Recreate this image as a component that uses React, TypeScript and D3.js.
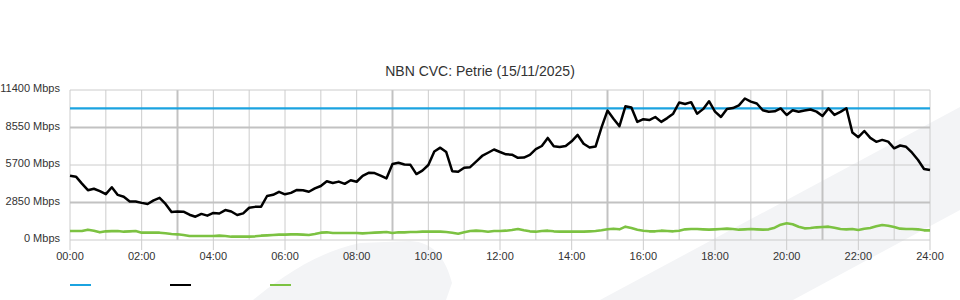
import React from "react";
import * as d3 from "d3";

const title = "NBN CVC: Petrie (15/11/2025)";
const yTicks = [0, 2850, 5700, 8550, 11400];
const xTickHours = [0, 2, 4, 6, 8, 10, 12, 14, 16, 18, 20, 22, 24];
const gridHours = d3.range(0, 25);
const majorGridHours = [3, 9, 15, 21];
const majorGridValues = [2850, 8550];
const capacity = 10000;
const minutesPerSample = 10;

// Total traffic (Mbps), 10-minute samples from 00:00 to 24:00
const traffic = [
  4889, 4813, 4286, 3785, 3894, 3709, 3486, 4010, 3428, 3286, 2928, 2928,
  2820, 2736, 3015, 3202, 2744, 2133, 2166, 2148, 1920, 1768, 1984, 1849,
  2057, 2014, 2275, 2166, 1900, 2022, 2452, 2518, 2533, 3344, 3433, 3663,
  3471, 3580, 3805, 3782, 3668, 3919, 4104, 4466, 4329, 4438, 4269, 4540,
  4426, 4874, 5105, 5084, 4897, 4687, 5781, 5870, 5743, 5710, 5011, 5272,
  5700, 6728, 7017, 6680, 5231, 5188, 5490, 5538, 5953, 6386, 6630, 6878,
  6688,
  6511, 6485, 6245, 6265, 6468, 6903, 7144, 7757, 7126, 7073, 7144, 7499,
  7985, 7311, 7033, 7103, 8563, 9837, 9221, 8651, 10159, 10067, 8973, 9183,
  9112, 9348, 8976, 9264, 9601, 10450, 10336, 10475, 9594, 9946, 10546, 9753,
  9348, 9958, 10024, 10235, 10754, 10513, 10376, 9860, 9748, 9779, 9999, 9500,
  9862, 9743, 9839, 9920, 9756, 9424, 10004, 9507, 9735, 10017, 8165, 7810,
  8284, 7760, 7461, 7608, 7473, 6967, 7182, 7083, 6637, 6080, 5401, 5320,
];

// Upload / other traffic (Mbps), 10-minute samples
const upload = [
  684, 684, 684, 785, 709, 583, 659, 671, 684, 633, 659, 684,
  557, 557, 557, 557, 507, 456, 431, 380, 304, 304, 304, 304,
  304, 329, 304, 253, 253, 253, 253, 279, 329, 355, 380, 405,
  405, 431, 431, 405, 380, 456, 557, 583, 532, 532, 532, 532,
  532, 507, 532, 557, 583, 608, 532, 583, 583, 608, 608, 633,
  633, 633, 633, 608, 557, 481, 583, 684, 709, 684, 633, 684,
  684,
  709, 760, 836, 735, 659, 633, 684, 709, 659, 633, 633, 633,
  633, 633, 659, 684, 735, 811, 861, 811, 1013, 912, 785, 709,
  659, 659, 709, 684, 659, 709, 811, 836, 836, 811, 785, 811,
  836, 861, 836, 785, 811, 836, 811, 785, 811, 937, 1165, 1267,
  1191, 1013, 887, 912, 963, 988, 1013, 937, 836, 811, 836, 760,
  861, 912, 1039, 1140, 1089, 988, 861, 836, 836, 811, 735, 735,
];

const colors = { capacity: "#1ba3e0", traffic: "#000000", upload: "#7cc242" };
const legendItems = [
  { key: "capacity", x: 70 },
  { key: "traffic", x: 170 },
  { key: "upload", x: 270 },
];

const W = 960;
const H = 300;
const FONT = "'Liberation Sans', Arial, Helvetica, sans-serif";

export default function App() {
  const x = d3.scaleLinear().domain([0, 24]).range([70, 930]);
  const y = d3.scaleLinear().domain([0, 11400]).range([240, 90]);
  const hourOf = (i: number) => (i * minutesPerSample) / 60;

  const line = d3
    .line<number>()
    .x((_, i) => x(hourOf(i)))
    .y((d) => y(d));

  const fmt = (h: number) => `${String(h).padStart(2, "0")}:00`;

  return (
    <svg
      width={W}
      height={H}
      style={{ position: "absolute", left: 0, top: 0, background: "#fff" }}
      fontFamily={FONT}
    >
      {/* background decorative swooshes */}
      <path
        d="M253,300 C275,282 315,252 360,243 L410,241 C428,242 443,250 452,283 L446,300 Z"
        fill="#f3f4f6"
      />
      <path d="M600,300 L960,107 L960,210 L793,300 Z" fill="#f3f4f6" />

      <text x={480} y={76} textAnchor="middle" fontSize={14} fill="#333">
        {title}
      </text>

      {/* vertical grid */}
      {gridHours.map((h) => {
        const major = majorGridHours.includes(h);
        const tick = xTickHours.includes(h);
        return (
          <line
            key={"v" + h}
            x1={x(h)}
            x2={x(h)}
            y1={y(11400)}
            y2={tick ? 250 : y(0)}
            stroke={major ? "#c2c2c2" : "#cccccc"}
            strokeWidth={major ? 2 : 1}
          />
        );
      })}
      {/* horizontal grid */}
      {yTicks.map((v) => {
        const major = majorGridValues.includes(v);
        return (
          <line
            key={"h" + v}
            x1={x(0)}
            x2={x(24)}
            y1={y(v)}
            y2={y(v)}
            stroke={major ? "#c2c2c2" : "#cccccc"}
            strokeWidth={major ? 2 : 1}
          />
        );
      })}

      {yTicks.map((v) => (
        <text key={"yl" + v} x={60} y={y(v) + 2} textAnchor="end" fontSize={11} fill="#333">
          {`${v} Mbps`}
        </text>
      ))}
      {xTickHours.map((h) => (
        <text key={"xl" + h} x={x(h)} y={260} textAnchor="middle" fontSize={11} fill="#333">
          {fmt(h)}
        </text>
      ))}

      <line
        x1={x(0)}
        x2={x(24)}
        y1={y(capacity)}
        y2={y(capacity)}
        stroke={colors.capacity}
        strokeWidth={2.2}
      />
      <path d={line(upload) || ""} fill="none" stroke={colors.upload} strokeWidth={2.6} strokeLinejoin="round" />
      <path d={line(traffic) || ""} fill="none" stroke={colors.traffic} strokeWidth={2.5} strokeLinejoin="round" />

      {legendItems.map((it) => (
        <line
          key={it.key}
          x1={it.x}
          x2={it.x + 21}
          y1={285}
          y2={285}
          stroke={(colors as any)[it.key]}
          strokeWidth={2}
        />
      ))}
    </svg>
  );
}
